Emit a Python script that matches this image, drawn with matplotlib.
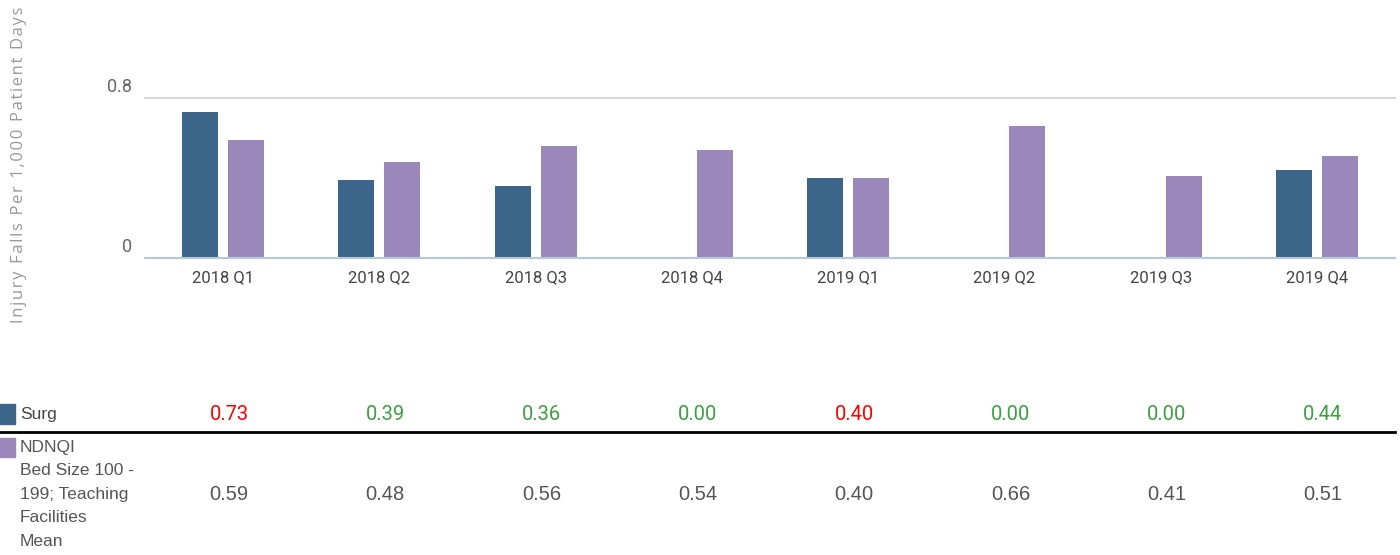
import matplotlib
matplotlib.use("Agg")
import matplotlib.pyplot as plt
import matplotlib.transforms as mtransforms
import numpy as np

quarters = ["2018 Q1", "2018 Q2", "2018 Q3", "2018 Q4",
            "2019 Q1", "2019 Q2", "2019 Q3", "2019 Q4"]
surg = [0.73, 0.39, 0.36, 0.00, 0.40, 0.00, 0.00, 0.44]
ndnqi = [0.59, 0.48, 0.56, 0.54, 0.40, 0.66, 0.41, 0.51]
# table colour of the Surg row: red = worse than benchmark, green = better
surg_flag = ["red", "green", "green", "green", "red", "green", "green", "green"]

c_surg = "#3b6689"
c_ndnqi = "#9a88ba"
flag_col = {"red": "#ff0000", "green": "#3c9f40"}

W, H = 1400, 555
fig = plt.figure(figsize=(14, 5.55), dpi=100)
fig.patch.set_facecolor("white")

# axes: x 145..1395 px, y from 258 (zero) to 98 (0.8)
ax = fig.add_axes([145 / W, 1 - 258 / H, 1250 / W, 160 / H])
x = np.arange(len(quarters))
bw = 0.23
ax.bar(x - 0.147, surg, bw, color=c_surg, zorder=3)
ax.bar(x + 0.147, ndnqi, bw, color=c_ndnqi, zorder=3)

ax.set_xlim(-0.5, len(quarters) - 0.5)
ax.set_ylim(0, 0.8)
ax.axhline(0.8, color="#d0d0d0", lw=1.2, zorder=1, clip_on=False)
ax.axhline(0, color="#b8c8dc", lw=1.5, zorder=4, clip_on=False)
for s in ax.spines.values():
    s.set_visible(False)
ax.set_yticks([0, 0.8])
ax.set_yticklabels(["0", "0.8"], fontsize=13, color="#666666", family="Roboto")
ax.set_xticks(x)
ax.set_xticklabels(quarters, fontsize=12, color="#444444", family="Roboto")
ax.tick_params(length=0)
ax.tick_params(axis="y", pad=9)
ax.tick_params(axis="x", pad=9)
shift = mtransforms.ScaledTranslation(0, 2 / 100, fig.dpi_scale_trans)
for lab in ax.get_yticklabels():
    lab.set_verticalalignment("bottom")
    lab.set_transform(lab.get_transform() + shift)

# letter-spaced axis title (hair spaces between characters)
ylab = "Injury Falls Per 1,000 Patient Days"
fig.text(19.5 / W, 1 - 165 / H, "\u200a".join(ylab),
         rotation=90, ha="center", va="center", fontsize=12, color="#999999",
         family=["Open Sans", "DejaVu Sans"])

# data table below the chart
col_x = [(145 + 156.25 * (i + 0.5) + 6) / W for i in range(len(quarters))]
y_surg = 1 - 415 / H
y_nd = 1 - 495 / H

fig.patches.append(plt.Rectangle((0, 1 - 424 / H), 15 / W, 20 / H, transform=fig.transFigure,
                                 color=c_surg))
fig.patches.append(plt.Rectangle((0, 1 - 457 / H), 15 / W, 19 / H, transform=fig.transFigure,
                                 color=c_ndnqi))
fig.text(20 / W, y_surg, "Surg", ha="left", va="center", fontsize=12.5,
         color="#444444", family="Liberation Sans")
fig.text(20 / W, 1 - 440 / H, "NDNQI\nBed Size 100 -\n199; Teaching\nFacilities\nMean",
         ha="left", va="top", fontsize=12.5, color="#555555", family="Liberation Sans",
         linespacing=1.70)

for i in range(len(quarters)):
    fig.text(col_x[i], y_surg, f"{surg[i]:.2f}", ha="center", va="center", fontsize=14.5,
             color=flag_col[surg_flag[i]], family="Roboto")
    fig.text(col_x[i], y_nd, f"{ndnqi[i]:.2f}", ha="center", va="center", fontsize=14.5,
             color="#555555", family="Liberation Sans")

fig.add_artist(plt.Line2D([0, 1395 / W], [1 - 432 / H, 1 - 432 / H], color="black", lw=2,
                          transform=fig.transFigure))

fig.savefig("out.png", dpi=100, facecolor="white")
